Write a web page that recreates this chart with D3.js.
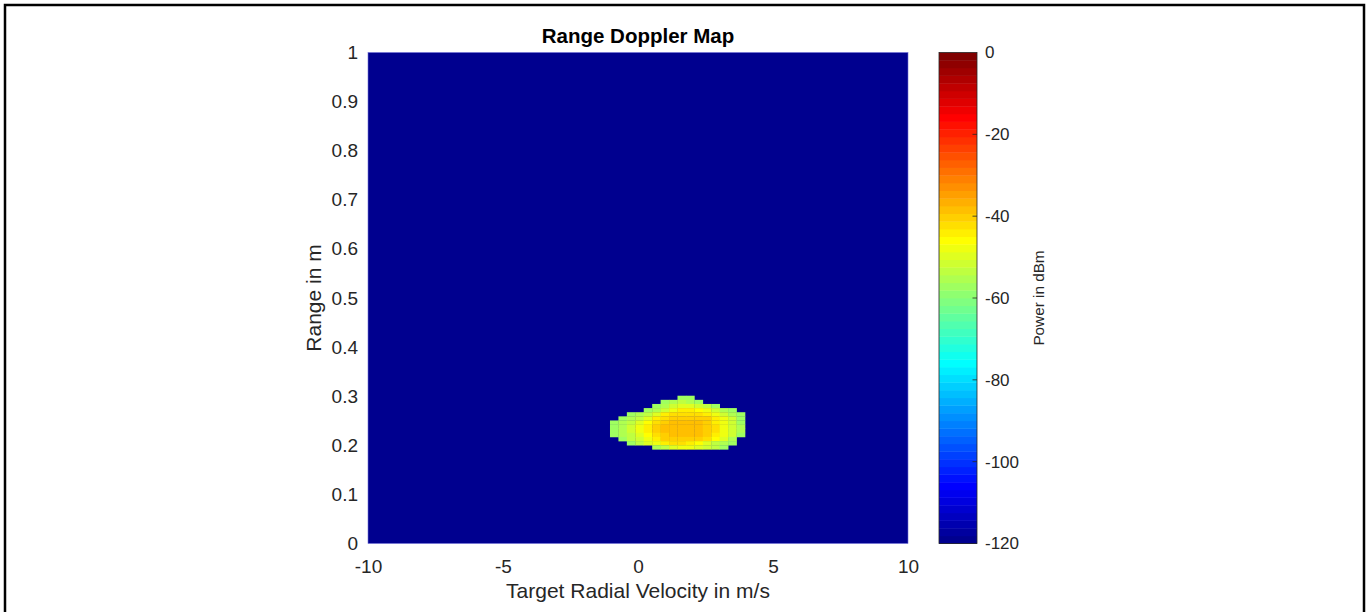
<!DOCTYPE html>
<html>
<head>
<meta charset="utf-8">
<script src="https://cdn.jsdelivr.net/npm/d3@7"></script>
<style>
  body { margin: 0; background: #fff; }
  text { font-family: "Liberation Sans", Arial, Helvetica, sans-serif; fill: #262626; }
</style>
</head>
<body>
<div id="chart"></div>
<script>
// Power floor of the whole map and colour limits (dBm)
const floorDb = -120;
const colorLimits = [-120, 0];

// Velocity bin centres (m/s) of the columns that hold the target
const velocityBins = [-0.881, -0.568, -0.256, 0.057, 0.369, 0.682, 0.994, 1.307,
                      1.619, 1.932, 2.244, 2.557, 2.869, 3.182, 3.494, 3.807];

// Range bin centres (m) of the rows that hold the target, top row first
const rangeBins = [0.2968, 0.2884, 0.2800, 0.2716, 0.2632, 0.2548, 0.2464,
                   0.2380, 0.2296, 0.2212, 0.2128, 0.2044, 0.1960];

// Power in dBm per cell (null = at the floor)
const n = null;
const powerRows = [
  [n, n, n, n, n, n, n, n, -58, -58, n, n, n, n, n, n],
  [n, n, n, n, n, n, -58, -56, -54, -55, -57, n, n, n, n, n],
  [n, n, n, n, n, -58, -55, -51, -49, -49, -51, -54, -58, n, n, n],
  [n, n, n, n, -58, -55, -51, -47, -45, -45, -46, -48, -51, -55, -58, n],
  [n, n, -58, -56, -53, -49, -45, -43, -42, -42, -43, -45, -48, -51, -55, -58],
  [n, -58, -56, -53, -49, -45, -42, -40, -40, -40, -40, -41, -44, -48, -52, -57],
  [-58, -56, -53, -49, -46, -42, -40, -39, -39, -39, -39, -41, -44, -48, -52, -57],
  [-57, -55, -52, -48, -45, -41, -39, -39, -38, -38, -39, -40, -43, -47, -51, -56],
  [-57, -55, -52, -48, -45, -41, -39, -39, -38, -38, -39, -40, -43, -47, -51, -56],
  [-58, -56, -53, -49, -46, -42, -40, -39, -39, -39, -39, -41, -44, -48, -52, -57],
  [n, -57, -54, -51, -47, -44, -41, -40, -40, -40, -41, -43, -46, -50, -55, n],
  [n, n, -57, -54, -50, -47, -44, -43, -43, -44, -46, -49, -53, -56, -58, n],
  [n, n, n, n, n, -56, -53, -50, -48, -48, -49, -51, -54, -57, n, n]
];

// Tick labels
const xTicks = [-10, -5, 0, 5, 10];
const yTicks = [0, 0.1, 0.2, 0.3, 0.4, 0.5, 0.6, 0.7, 0.8, 0.9, 1];
const cTicks = [0, -20, -40, -60, -80, -100, -120];

const width = 1369, height = 612;
const plot = { left: 368, right: 908, top: 52.5, bottom: 543.5 };
const bar = { left: 939, right: 977 };

const svg = d3.select("#chart")
  .append("svg")
  .attr("width", width)
  .attr("height", height);

// MATLAB style jet colormap with n levels
function jet(nLev) {
  const m = Math.ceil(nLev / 4);
  const u = [...d3.range(1, m + 1).map(k => k / m),
             ...d3.range(m - 1).map(() => 1),
             ...d3.range(m, 0, -1).map(k => k / m)];
  const g0 = Math.ceil(m / 2) - (nLev % 4 === 1 ? 1 : 0);
  const cols = d3.range(nLev).map(() => [0, 0, 0]);
  u.forEach((val, k) => {
    const gi = g0 + k + 1, ri = gi + m, bi = gi - m;
    if (gi >= 1 && gi <= nLev) cols[gi - 1][1] = val;
    if (ri >= 1 && ri <= nLev) cols[ri - 1][0] = val;
    if (bi >= 1 && bi <= nLev) cols[bi - 1][2] = val;
  });
  return cols.map(c => d3.rgb(c[0] * 255, c[1] * 255, c[2] * 255).formatHex());
}
const jetColors = jet(64);

const color = d3.scaleQuantize().domain(colorLimits).range(jetColors);

const x = d3.scaleLinear().domain([-10, 10]).range([plot.left, plot.right]);
const y = d3.scaleLinear().domain([0, 1]).range([plot.bottom, plot.top]);
const cy = d3.scaleLinear().domain(colorLimits).range([plot.bottom, plot.top]);

const fmt = d3.formatLocale({ decimal: ".", thousands: ",", grouping: [3], currency: ["", ""], minus: "-" }).format("~g");

// Outer frame
svg.append("path")
  .attr("d", `M5,${height} V5 H1364 V${height}`)
  .attr("fill", "none")
  .attr("stroke", "#000")
  .attr("stroke-width", 2.5);

// Map floor
svg.append("rect")
  .attr("x", x(-10))
  .attr("y", y(1))
  .attr("width", x(10) - x(-10))
  .attr("height", y(0) - y(1))
  .attr("fill", color(floorDb));

// Target cells
const dv = velocityBins[1] - velocityBins[0];
const dr = rangeBins[0] - rangeBins[1];
const cells = [];
powerRows.forEach((row, i) => row.forEach((v, j) => {
  if (v !== null) cells.push({ vel: velocityBins[j], rng: rangeBins[i], v });
}));

svg.append("g")
  .selectAll("rect")
  .data(cells)
  .join("rect")
  .attr("x", d => x(d.vel - dv / 2))
  .attr("y", d => y(d.rng + dr / 2))
  .attr("width", x(dv) - x(0) + 0.3)
  .attr("height", y(0) - y(dr) + 0.3)
  .attr("fill", d => color(d.v));

// faint edge of the image
svg.append("rect")
  .attr("x", x(-10))
  .attr("y", y(1))
  .attr("width", x(10) - x(-10))
  .attr("height", y(0) - y(1))
  .attr("fill", "none")
  .attr("stroke", "#7070d8")
  .attr("stroke-width", 0.6);

// Axes
const yAxis = svg.append("g")
  .attr("transform", `translate(${plot.left},0)`)
  .call(d3.axisLeft(y).tickValues(yTicks).tickSize(0).tickPadding(10).tickFormat(fmt));
const xAxis = svg.append("g")
  .attr("transform", `translate(0,${plot.bottom})`)
  .call(d3.axisBottom(x).tickValues(xTicks).tickSize(0).tickPadding(16).tickFormat(fmt));
[xAxis, yAxis].forEach(g => {
  g.select(".domain").remove();
  g.attr("font-family", null).attr("font-size", 19);
  g.selectAll("text").attr("fill", "#262626");
});

// Colorbar
const step = (colorLimits[1] - colorLimits[0]) / jetColors.length;
svg.append("g")
  .selectAll("rect")
  .data(jetColors)
  .join("rect")
  .attr("x", bar.left)
  .attr("y", (d, i) => cy(colorLimits[0] + (i + 1) * step))
  .attr("width", bar.right - bar.left)
  .attr("height", cy(0) - cy(step) + 0.4)
  .attr("fill", d => d);

svg.append("rect")
  .attr("x", bar.left)
  .attr("y", cy(0))
  .attr("width", bar.right - bar.left)
  .attr("height", cy(-120) - cy(0))
  .attr("fill", "none")
  .attr("stroke", "#262626")
  .attr("stroke-width", 0.8);

const cb = svg.append("g");
cb.selectAll("line")
  .data(cTicks.filter(d => d !== 0 && d !== -120))
  .join("line")
  .attr("x1", bar.right - 4.5)
  .attr("x2", bar.right)
  .attr("y1", d => cy(d))
  .attr("y2", d => cy(d))
  .attr("stroke", "#262626")
  .attr("stroke-width", 0.8);
cb.selectAll("text")
  .data(cTicks)
  .join("text")
  .attr("x", bar.right + 8)
  .attr("y", d => cy(d))
  .attr("dy", "0.35em")
  .attr("font-size", 17)
  .text(fmt);

// Titles
svg.append("text")
  .attr("x", 638)
  .attr("y", 43)
  .attr("text-anchor", "middle")
  .attr("font-size", 20.5)
  .attr("font-weight", "bold")
  .style("fill", "#000")
  .text("Range Doppler Map");

svg.append("text")
  .attr("x", 638)
  .attr("y", 598)
  .attr("text-anchor", "middle")
  .attr("font-size", 21)
  .text("Target Radial Velocity in m/s");

svg.append("text")
  .attr("transform", "translate(321,298) rotate(-90)")
  .attr("text-anchor", "middle")
  .attr("font-size", 21)
  .text("Range in m");

svg.append("text")
  .attr("transform", "translate(1044,298) rotate(-90)")
  .attr("text-anchor", "middle")
  .attr("font-size", 15.3)
  .text("Power in dBm");
</script>
</body>
</html>
